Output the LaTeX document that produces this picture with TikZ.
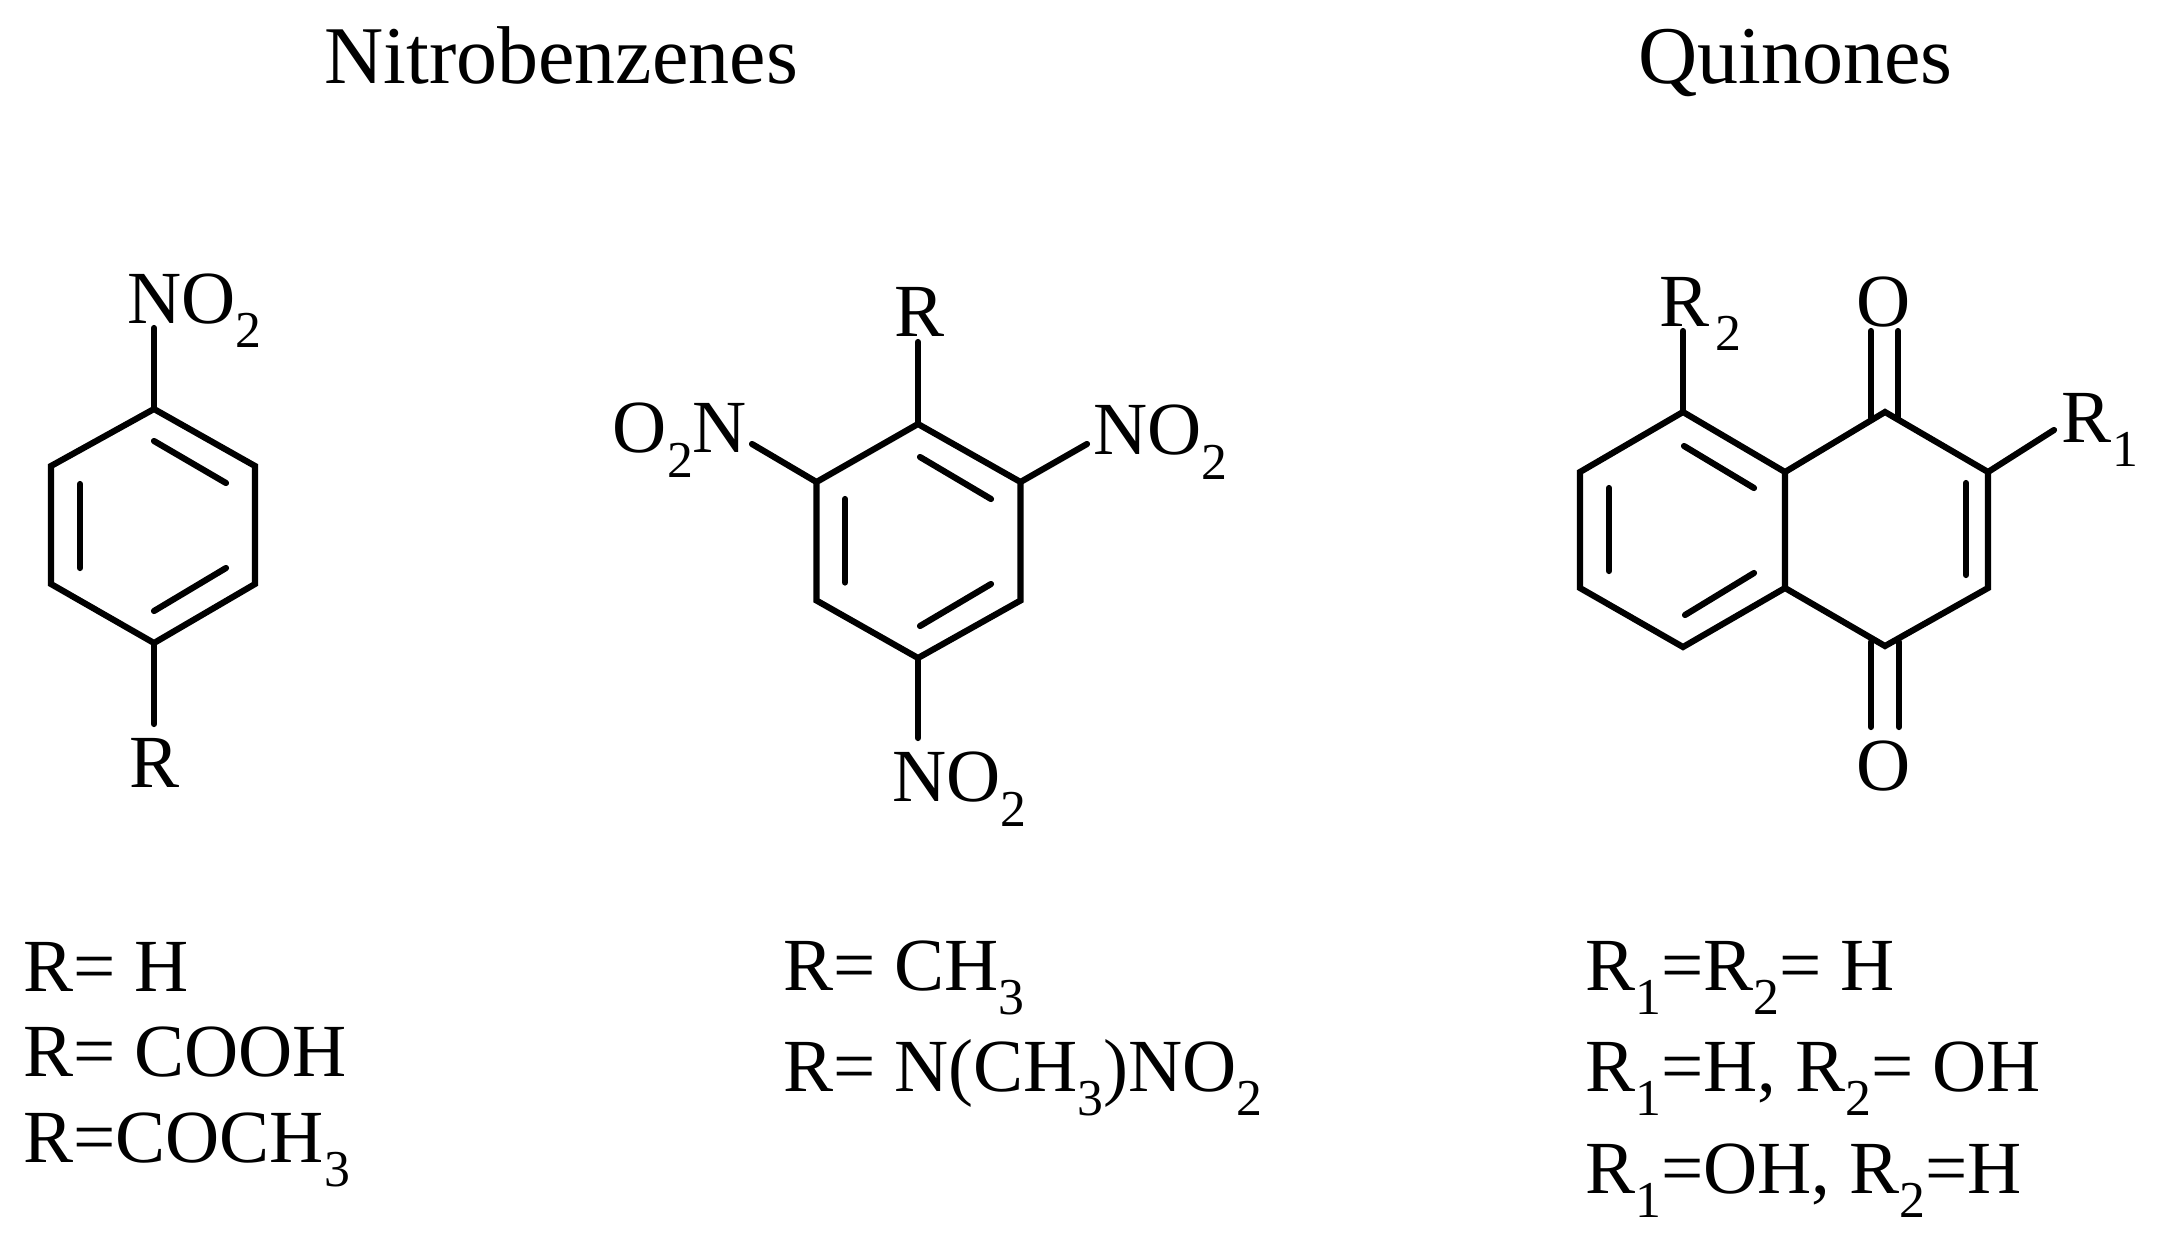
\documentclass[tikz,border=0pt]{standalone}
\usepackage{fontspec}
\setmainfont{Liberation Serif}
\usetikzlibrary{calc}
\newcommand{\chemsub}[1]{\raisebox{-0.33em}{\scalebox{0.69}{#1}}}
\tikzset{
  bond/.style={line width=3.1pt, line cap=round, line join=miter},
  atom/.style={anchor=base west, inner sep=0pt, font=\fontsize{37.5}{45}\selectfont},
  heading/.style={anchor=base west, inner sep=0pt, font=\fontsize{41}{49}\selectfont},
  entry/.style={atom}
}
\begin{document}
\begin{tikzpicture}[x=0.5pt, y=-0.5pt]
      \useasboundingbox (0,0) rectangle (2164,1237);
      \node[heading] (title-nitro) at (324,83) {Nitrobenzenes};
      \node[heading] (title-quinones) at (1638,83) {Quinones};

      \coordinate (a-top) at (154,409);
      \coordinate (a-upright) at (255,466);
      \coordinate (a-lowright) at (255,584);
      \coordinate (a-bottom) at (154,643);
      \coordinate (a-lowleft) at (51,584);
      \coordinate (a-upleft) at (51,466);
      \coordinate (a-no2-end) at (154,328);
      \coordinate (a-r-end) at (154,724);
      \node[atom] (a-no2) at (127,323) {NO\chemsub{2}};
      \node[atom] (a-r) at (129,787) {R};
      \draw[bond] (a-top) -- (a-upright) -- (a-lowright) -- (a-bottom) -- (a-lowleft) -- (a-upleft) -- cycle;
      \draw[bond] (a-top) -- (a-no2-end);
      \draw[bond] (a-bottom) -- (a-r-end);
      \draw[bond] ($(a-top)+(0,32)$) -- ($(a-upright)+(-29,17)$);
      \draw[bond] ($(a-upleft)+(29,18)$) -- ($(a-lowleft)+(29,-16)$);
      \draw[bond] ($(a-lowright)+(-29,-16)$) -- ($(a-bottom)+(0,-32)$);

      \coordinate (b-top) at (918,424);
      \coordinate (b-upright) at (1020.5,482);
      \coordinate (b-lowright) at (1020.5,600.5);
      \coordinate (b-bottom) at (918,658);
      \coordinate (b-lowleft) at (816.5,600.5);
      \coordinate (b-upleft) at (816.5,482);
      \coordinate (b-r-end) at (918,342);
      \coordinate (b-left-end) at (752,444);
      \coordinate (b-right-end) at (1087,444);
      \coordinate (b-bottom-end) at (918,738);
      \node[atom] (b-r) at (894,336.5) {R};
      \node[atom] (b-o2n) at (612.5,452.5) {O\chemsub{2}N};
      \node[atom] (b-no2-right) at (1093,454.5) {NO\chemsub{2}};
      \node[atom] (b-no2-bottom) at (892,801.5) {NO\chemsub{2}};
      \draw[bond] (b-top) -- (b-upright) -- (b-lowright) -- (b-bottom) -- (b-lowleft) -- (b-upleft) -- cycle;
      \draw[bond] (b-top) -- (b-r-end);
      \draw[bond] (b-upleft) -- (b-left-end);
      \draw[bond] (b-upright) -- (b-right-end);
      \draw[bond] (b-bottom) -- (b-bottom-end);
      \draw[bond] ($(b-top)+(2,33)$) -- ($(b-upright)+(-29.5,17)$);
      \draw[bond] ($(b-upleft)+(28.5,17)$) -- ($(b-lowleft)+(28.5,-18)$);
      \draw[bond] ($(b-lowright)+(-29.5,-16.5)$) -- ($(b-bottom)+(2,-32)$);

      \coordinate (c-top) at (1683,412);
      \coordinate (c-upfuse) at (1785,472);
      \coordinate (c-lowfuse) at (1785,588);
      \coordinate (c-bottom) at (1683,647);
      \coordinate (c-lowleft) at (1580,588);
      \coordinate (c-upleft) at (1580,472);
      \coordinate (d-top) at (1885,412);
      \coordinate (d-upright) at (1988,472);
      \coordinate (d-lowright) at (1988,588);
      \coordinate (d-bottom) at (1885,646);
      \coordinate (c-r2-end) at (1683,331);
      \coordinate (d-r1-end) at (2054,430);
      \coordinate (d-o1a) at (1871,331);
      \coordinate (d-o1b) at (1898,331);
      \coordinate (d-o1a-foot) at (1871,418);
      \coordinate (d-o1b-foot) at (1898,418);
      \coordinate (d-o2a) at (1871,727);
      \coordinate (d-o2b) at (1899,727);
      \coordinate (d-o2a-foot) at (1871,642);
      \coordinate (d-o2b-foot) at (1899,642);
      \node[atom] (c-r2) at (1659,326) {R\hspace{0.08em}\chemsub{2}};
      \node[atom] (d-r1) at (2061,442) {R\hspace{0.02em}\chemsub{1}};
      \node[atom, anchor=base] (d-o1) at (1884,326) {O};
      \node[atom, anchor=base] (d-o2) at (1884,790) {O};
      \draw[bond] (c-top) -- (c-upfuse) -- (c-lowfuse) -- (c-bottom) -- (c-lowleft) -- (c-upleft) -- cycle;
      \draw[bond] (c-upfuse) -- (d-top) -- (d-upright) -- (d-lowright) -- (d-bottom) -- (c-lowfuse);
      \draw[bond] (c-top) -- (c-r2-end);
      \draw[bond] (d-upright) -- (d-r1-end);
      \draw[bond] (d-o1a) -- (d-o1a-foot);
      \draw[bond] (d-o1b) -- (d-o1b-foot);
      \draw[bond] (d-o2a-foot) -- (d-o2a);
      \draw[bond] (d-o2b-foot) -- (d-o2b);
      \draw[bond] ($(c-top)+(1,34)$) -- ($(c-upfuse)+(-31,16)$);
      \draw[bond] ($(c-upleft)+(29,16)$) -- ($(c-lowleft)+(29,-17)$);
      \draw[bond] ($(c-lowfuse)+(-31,-15)$) -- ($(c-bottom)+(2,-32)$);
      \draw[bond] ($(d-upright)+(-22,11)$) -- ($(d-lowright)+(-22,-13)$);

      \node[entry] (list-a1) at (23,991) {R= H};
      \node[entry] (list-a2) at (23,1076) {R= COOH};
      \node[entry] (list-a3) at (23,1162) {R=COCH\chemsub{3}};
      \node[entry] (list-b1) at (783,990) {R= CH\chemsub{3}};
      \node[entry] (list-b2) at (783,1091) {R= N(CH\chemsub{3})NO\chemsub{2}};
      \node[entry] (list-c1) at (1585,990) {R\chemsub{1}=R\chemsub{2}= H};
      \node[entry] (list-c2) at (1585,1091) {R\chemsub{1}=H, R\chemsub{2}= OH};
      \node[entry] (list-c3) at (1585,1193) {R\chemsub{1}=OH, R\chemsub{2}=H};
\end{tikzpicture}
\end{document}
